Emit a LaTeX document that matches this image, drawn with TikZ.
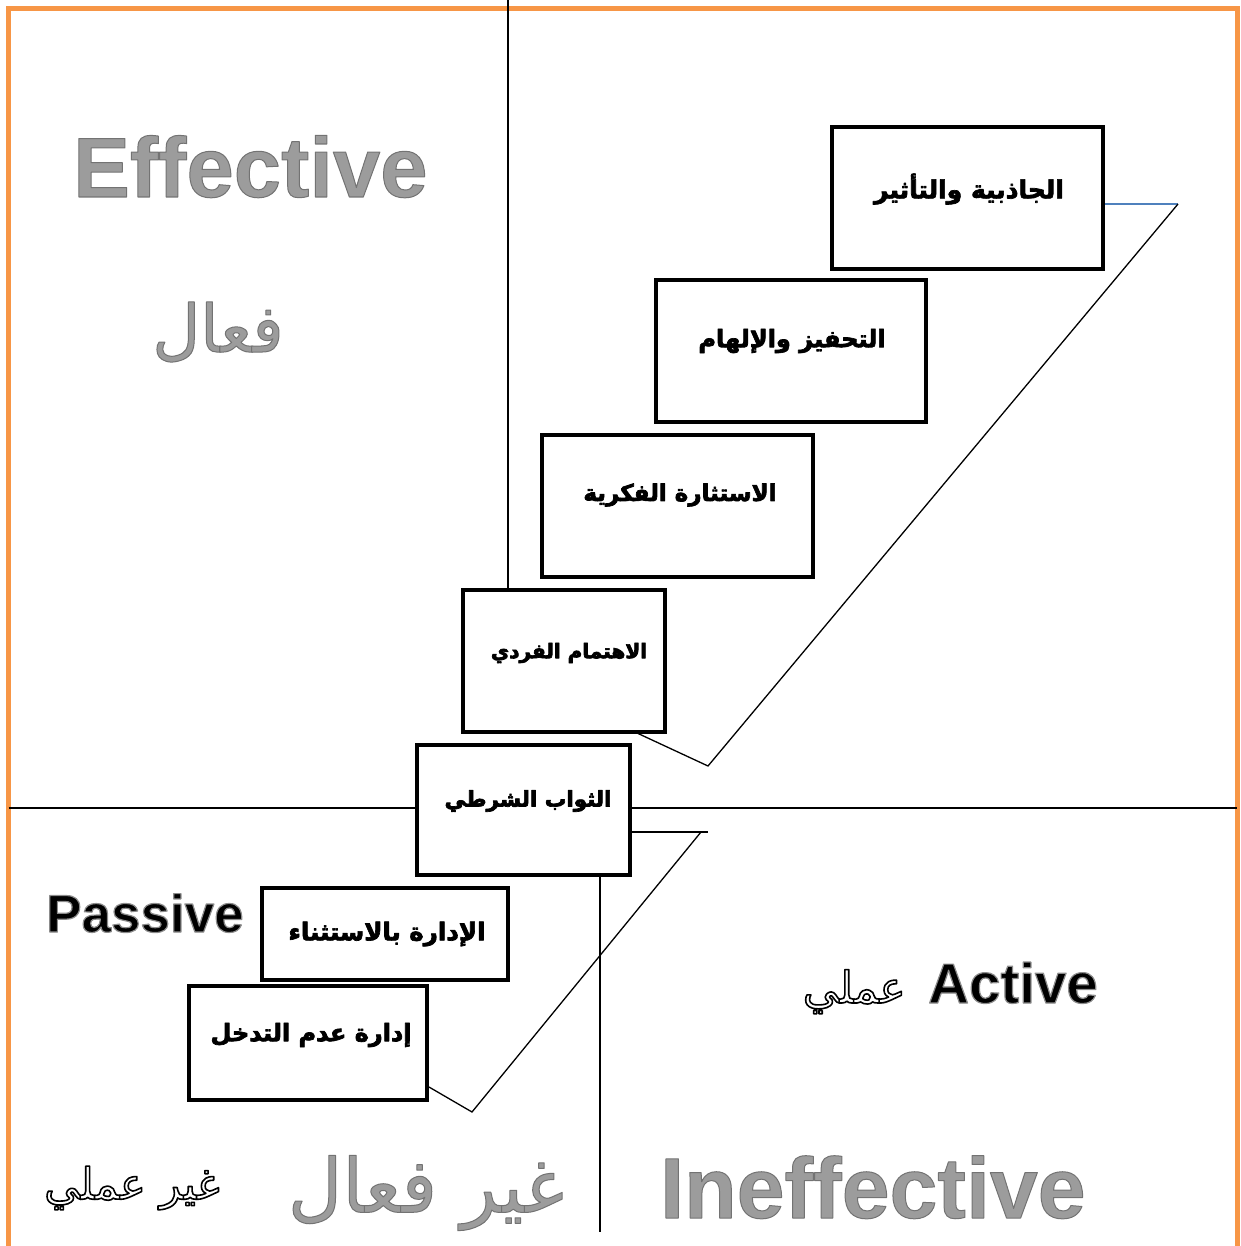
\documentclass[tikz,border=0pt]{standalone}
\usepackage{fontspec}
\setmainfont{Liberation Sans}
\newfontfamily\arabicfont[Script=Arabic]{DejaVu Sans}
\TeXXeTstate=1
\definecolor{bordorange}{HTML}{F79646}
\definecolor{linkblue}{HTML}{4F81BD}
\definecolor{wgray}{HTML}{9C9C9C}
% outlined text: #1 stroke colour (rgb numbers), #2 stroke width, #3 text
\newcommand\outlinedtext[3]{\special{pdf:literal direct #1 RG #2 w 1 j 2 Tr}#3\special{pdf:literal direct 0 Tr}}
\newcommand\heavyar[1]{\outlinedtext{0 0 0}{0.7}{\beginR #1\endR}}
\begin{document}
\begin{tikzpicture}[x=1pt,y=-1pt,
  stepbox/.style={draw=black, line width=4pt, fill=white, inner sep=0pt},
  boxtext/.style={inner sep=0pt},
  axisline/.style={line width=2pt, black},
  stairline/.style={line width=1.3pt, black},
  bigword/.style={inner sep=0pt},
  midword/.style={inner sep=0pt, text=black},
  arword/.style={inner sep=0pt}]
\useasboundingbox (0,0) rectangle (1240,1246);
\clip (0,0) rectangle (1240,1246);
% frame
\draw[bordorange, line width=5pt] (8.5,9) rectangle (1237,1262);
% axes
\coordinate (vtop) at (508,0);
\coordinate (hl) at (8.5,808);
\coordinate (hr) at (1237,808);
\coordinate (vbot) at (600,1232);
\draw[axisline] (hl) -- (hr);
% boxes
\node[stepbox, minimum width=271pt, minimum height=142pt] (b1) at (967.5,198) {};
\node[stepbox, minimum width=270pt, minimum height=142pt] (b2) at (791,351) {};
\node[stepbox, minimum width=271pt, minimum height=142pt] (b3) at (677.5,506) {};
\node[stepbox, minimum width=202pt, minimum height=142pt] (b4) at (564,661) {};
\node[stepbox, minimum width=213pt, minimum height=130pt] (b5) at (523.5,810) {};
\node[stepbox, minimum width=238pt, minimum height=114pt] (b7) at (308,1043) {};
\node[stepbox, minimum width=246pt, minimum height=92pt] (b6) at (385,934) {};
\draw[axisline] (vtop) -- (vtop |- b4.north);
\draw[axisline, line width=1.5pt] (vbot |- b5.south) -- (vbot);
% box texts
\node[boxtext, font=\arabicfont\bfseries\fontsize{25}{30}\selectfont] (t1) at (969,189) {\heavyar{الجاذبية والتأثير}};
\node[boxtext, font=\arabicfont\bfseries\fontsize{24}{29}\selectfont] (t2) at (792,341) {\heavyar{التحفيز والإلهام}};
\node[boxtext, font=\arabicfont\bfseries\fontsize{23}{28}\selectfont] (t3) at (680,495) {\heavyar{الاستثارة الفكرية}};
\node[boxtext, font=\arabicfont\bfseries\fontsize{20}{24}\selectfont] (t4) at (569,653) {\heavyar{الاهتمام الفردي}};
\node[boxtext, font=\arabicfont\bfseries\fontsize{21.5}{26}\selectfont] (t5) at (528,801) {\heavyar{الثواب الشرطي}};
\node[boxtext, font=\arabicfont\bfseries\fontsize{24.5}{29}\selectfont] (t6) at (387,934) {\heavyar{الإدارة بالاستثناء}};
\node[boxtext, font=\arabicfont\bfseries\fontsize{24}{29}\selectfont] (t7) at (311,1035) {\heavyar{إدارة عدم التدخل}};
% stair outline
\coordinate (p1) at (1178,204);
\coordinate (p2) at (708,766);
\coordinate (q0) at (708,832);
\coordinate (q1) at (701,832);
\coordinate (q2) at (472,1112);
\draw[linkblue, line width=1.4pt] (b1.east |- p1) -- (p1);
\draw[stairline] (p1) -- (p2) -- (637,733);
\draw[stairline] (b5.east |- q0) -- (q0);
\draw[stairline] (q1) -- (q2) -- (b7.east |- 0,1087);
% big words
\node[bigword, anchor=base west, font=\bfseries\fontsize{85}{90}\selectfont] (eff) at (73,197) {\textcolor{wgray}{\outlinedtext{0.45 0.45 0.45}{1}{Effective}}};
\node[bigword, anchor=base west, font=\bfseries\fontsize{86}{92}\selectfont] (ineff) at (660,1218) {\textcolor{wgray}{\outlinedtext{0.45 0.45 0.45}{1}{Ineffective}}};
\node[midword, anchor=base west, font=\bfseries\fontsize{53}{60}\selectfont] (pass) at (46,932) {\textcolor{black}{\outlinedtext{0.55 0.55 0.55}{1.2}{Passive}}};
\node[midword, anchor=base west, font=\bfseries\fontsize{56.5}{60}\selectfont] (act) at (928,1003) {\textcolor{black}{\outlinedtext{0.55 0.55 0.55}{1.2}{Active}}};
\node[arword, anchor=base east, font=\arabicfont\fontsize{44}{50}\selectfont] (amali) at ([xshift=-22pt]act.base west) {\textcolor{white}{\outlinedtext{0 0 0}{1.6}{\beginR عملي\endR}}};
\node[arword, font=\arabicfont\fontsize{66}{72}\selectfont] (faal) at (218,332) {\textcolor{wgray}{\outlinedtext{0.45 0.45 0.45}{1}{\beginR فعال\endR}}};
\node[arword, font=\arabicfont\fontsize{75}{80}\selectfont] (ghfaal) at (426,1193) {\textcolor{wgray}{\outlinedtext{0.45 0.45 0.45}{1}{\beginR غير فعال\endR}}};
\node[arword, font=\arabicfont\fontsize{43.5}{48}\selectfont] (ghamali) at (132,1188) {\textcolor{white}{\outlinedtext{0 0 0}{1.6}{\beginR غير عملي\endR}}};
\end{tikzpicture}
\end{document}
